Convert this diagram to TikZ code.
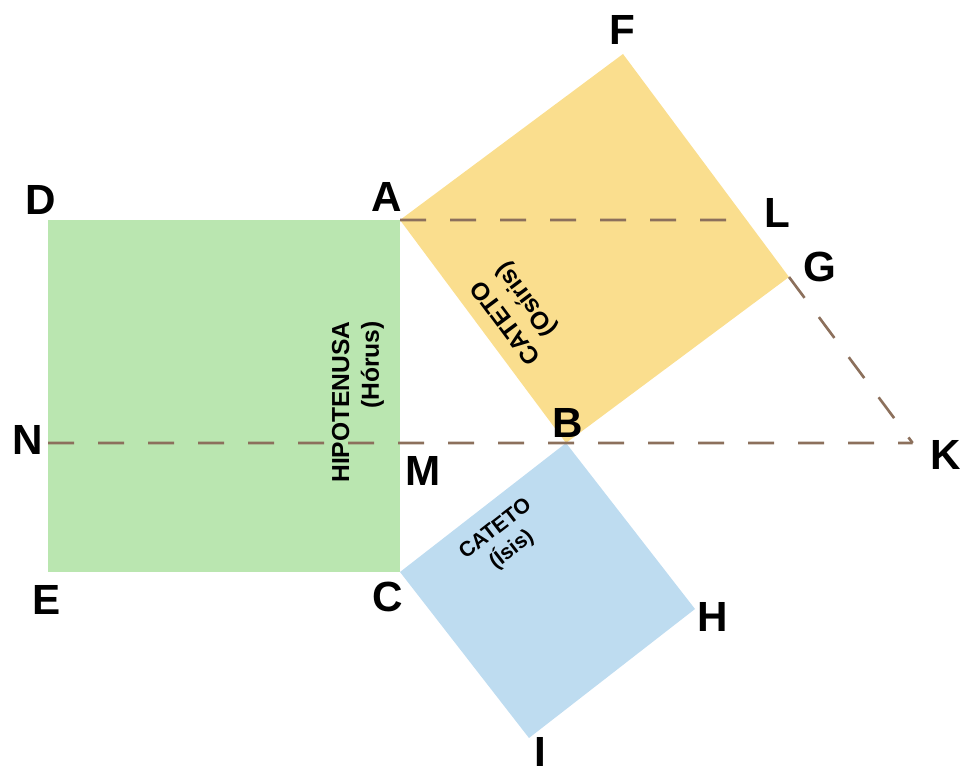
\documentclass[tikz,border=0pt]{standalone}
\usepackage{fontspec}
\setmainfont{Liberation Sans}
\usepackage{tikz}
\usepackage{xcolor}
\usetikzlibrary{calc, positioning}

\definecolor{hipgreen}{RGB}{186,230,176}
\definecolor{osiyellow}{RGB}{250,222,142}
\definecolor{isiblue}{RGB}{190,220,240}
\definecolor{dashbrown}{RGB}{140,112,92}

\tikzset{
    lbl/.style={font=\fontsize{24}{28}\selectfont\bfseries, inner sep=0pt},
    sqtext/.style={font=\fontsize{14}{17}\selectfont\bfseries, inner sep=0pt},
    aux/.style={draw=dashbrown, line width=1.5pt, dash pattern=on 0.52cm off 0.48cm}
}

\begin{document}
\begin{tikzpicture}
                        \useasboundingbox (0,0) rectangle (19.22,15.46);

                        \coordinate (A) at (8.00, 11.06);
                        \coordinate (C) at (8.00, 4.02);
                        \coordinate (B) at (11.32, 6.60);
                        \coordinate (D) at ($(A)!1!-90:(C)$);
                        \coordinate (E) at ($(C)!1!90:(A)$);
                        \coordinate (F) at ($(A)!1!90:(B)$);
                        \coordinate (G) at ($(B)!1!-90:(A)$);
                        \coordinate (H) at ($(B)!1!90:(C)$);
                        \coordinate (I) at ($(C)!1!-90:(B)$);
                        \coordinate (M) at ($(A)!(B)!(C)$);
                        \coordinate (N) at ($(D)!(B)!(E)$);
                        \coordinate (L) at (intersection of F--G and D--A);
                        \coordinate (K) at (intersection of F--G and N--B);

                        \fill[hipgreen] (A) -- (D) -- (E) -- (C) -- cycle;
                        \fill[osiyellow] (A) -- (F) -- (G) -- (B) -- cycle;
                        \fill[isiblue] (B) -- (H) -- (I) -- (C) -- cycle;

                        \draw[aux] (A) -- (L);
                        \draw[aux] (N) -- (K);
                        \draw[aux] (G) -- (K);

                        \node[lbl] (lD) at ($(D)+(-0.14,0.40)$) {D};
                        \node[lbl] (lA) at ($(A)+(-0.26,0.46)$) {A};
                        \node[lbl] (lF) at ($(F)+(-0.02,0.48)$) {F};
                        \node[lbl] (lL) at ($(L)+(0.61,0.14)$) {L};
                        \node[lbl] (lG) at ($(G)+(0.62,0.20)$) {G};
                        \node[lbl] (lN) at ($(N)+(-0.40,0.06)$) {N};
                        \node[lbl] (lM) at ($(M)+(0.46,-0.55)$) {M};
                        \node[lbl] (lB) at ($(B)+(0.04,0.40)$) {B};
                        \node[lbl] (lK) at ($(K)+(0.66,-0.24)$) {K};
                        \node[lbl] (lE) at ($(E)+(-0.02,-0.56)$) {E};
                        \node[lbl] (lC) at ($(C)+(-0.24,-0.50)$) {C};
                        \node[lbl] (lH) at ($(H)+(0.36,-0.16)$) {H};
                        \node[lbl] (lI) at ($(I)+(0.22,-0.28)$) {I};

                        \node[sqtext, rotate=90, align=right] (hyp) at ($(M)+(-0.84,0.82)$) {HIPOTENUSA\\(Hórus)};
                        \node[sqtext, rotate=126.7, align=right] (osi) at (10.38, 9.20) {CATETO\\(Osíris)};
                        \node[sqtext, font=\fontsize{12}{15}\selectfont\bfseries, rotate=37.7, align=center] (isi) at (10.08, 4.66) {CATETO\\(Ísis)};
                    \end{tikzpicture}
\end{document}
